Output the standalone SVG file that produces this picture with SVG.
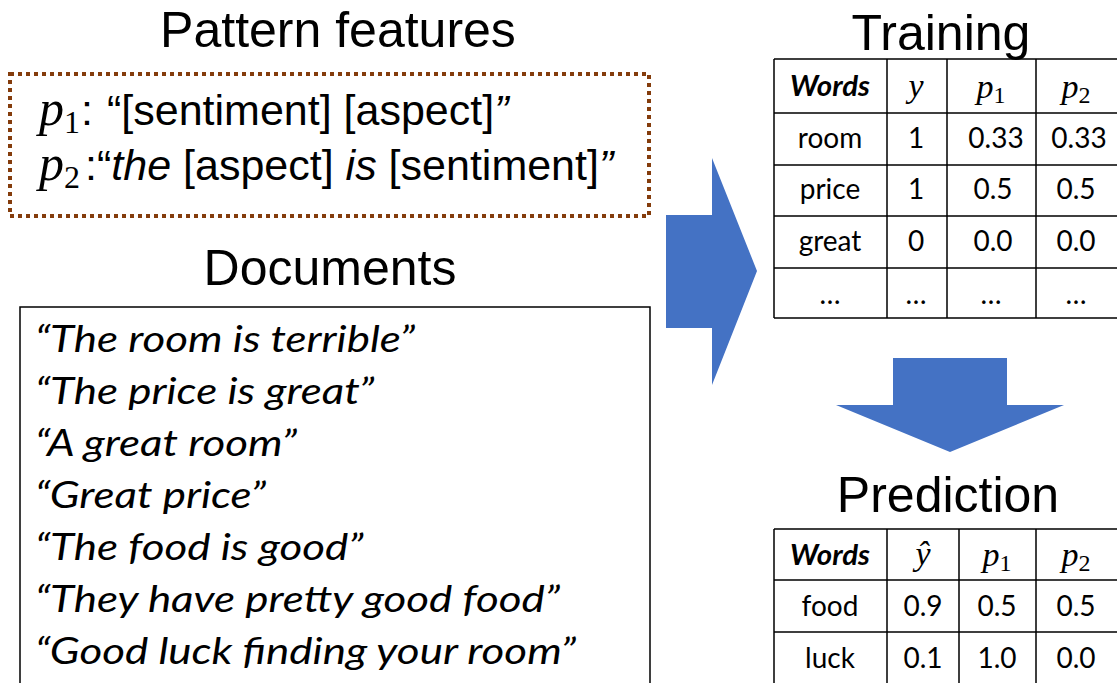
<svg xmlns="http://www.w3.org/2000/svg" width="1117" height="683" viewBox="0 0 1117 683">
  <style>
    .title { font-family: "Liberation Sans", Arial, sans-serif; font-size: 50px; fill: #000; text-anchor: middle; }
    .pat { font-family: "Liberation Sans", Arial, sans-serif; font-size: 43px; fill: #000; }
    .it { font-style: italic; }
    .math { font-family: "Liberation Serif", "Times New Roman", serif; font-style: italic; }
    .sub { font-family: "Liberation Serif", "Times New Roman", serif; font-style: normal; }
    .doc { font-family: Lato, "Open Sans", sans-serif; font-style: italic; font-size: 36px; fill: #000; }
    .cell { font-family: Lato, "Open Sans", sans-serif; font-size: 28px; fill: #000; text-anchor: middle; }
    .cell.math { font-family: "Liberation Serif", "Times New Roman", serif; font-size: 34px; }
    .head { font-weight: bold; font-style: italic; }
    .grid { fill: none; stroke: #000; stroke-width: 1.5; }
    .arrow { fill: #4472C4; }
  </style>

  <!-- section titles -->
  <text class="title" x="338" y="47">Pattern features</text>
  <text class="title" x="330" y="285">Documents</text>
  <text class="title" x="941" y="50">Training</text>
  <text class="title" x="948" y="512">Prediction</text>

  <!-- pattern features box -->
  <g id="patterns">
    <rect x="10" y="74" width="639" height="142" fill="none" stroke="#843C0C" stroke-width="4" stroke-dasharray="4 4"/>
    <text class="pat" y="125"><tspan class="math" x="39" font-size="50">p</tspan><tspan class="sub" x="64" dy="8" font-size="32">1</tspan><tspan x="81" dy="-8">:</tspan><tspan x="107">“[sentiment] [aspect]</tspan><tspan class="it">”</tspan></text>
    <text class="pat" y="180"><tspan class="math" x="39" font-size="50">p</tspan><tspan class="sub" x="64" dy="8" font-size="32">2</tspan><tspan x="85" dy="-8">:</tspan><tspan x="97">“</tspan><tspan class="it">the</tspan><tspan> [aspect] </tspan><tspan class="it">is</tspan><tspan> [sentiment]</tspan><tspan class="it">”</tspan></text>
  </g>

  <!-- documents box (open at the bottom edge) -->
  <g id="documents">
    <path d="M20 690 V307 H650 V690" fill="none" stroke="#000" stroke-width="1.5"/>
    <g transform="translate(35 0) scale(1.22 1)">
      <text class="doc" x="0" y="352">“The room is terrible”</text>
      <text class="doc" x="0" y="404">“The price is great”</text>
      <text class="doc" x="0" y="456">“A great room”</text>
      <text class="doc" x="0" y="508">“Great price”</text>
      <text class="doc" x="0" y="560">“The food is good”</text>
      <text class="doc" x="0" y="612">“They have pretty good food”</text>
      <text class="doc" x="0" y="664">“Good luck finding your room”</text>
    </g>
  </g>

  <!-- training table -->
  <g id="training">
    <path class="grid" d="M774 59 H1120 M774 113 H1120 M774 165 H1120 M774 216 H1120 M774 268 H1120 M774 318 H1120 M774 59 V318 M887 59 V318 M947 59 V318 M1036 59 V318"/>
    <text class="cell head" x="830" y="96" textLength="80" lengthAdjust="spacingAndGlyphs">Words</text>
    <text class="cell math" x="916" y="97">y</text>
    <text class="cell" x="991" y="98"><tspan class="math" font-size="34">p</tspan><tspan class="sub" font-size="24" dy="5">1</tspan></text>
    <text class="cell" x="1076" y="98"><tspan class="math" font-size="34">p</tspan><tspan class="sub" font-size="24" dy="5">2</tspan></text>
    <text class="cell" x="830" y="148">room</text>
    <text class="cell" x="916" y="148">1</text>
    <text class="cell" x="996" y="148">0.33</text>
    <text class="cell" x="1079" y="148">0.33</text>
    <text class="cell" x="830" y="199">price</text>
    <text class="cell" x="916" y="199">1</text>
    <text class="cell" x="993" y="199">0.5</text>
    <text class="cell" x="1076" y="199">0.5</text>
    <text class="cell" x="830" y="251">great</text>
    <text class="cell" x="916" y="251">0</text>
    <text class="cell" x="993" y="251">0.0</text>
    <text class="cell" x="1076" y="251">0.0</text>
    <text class="cell" x="830" y="304">…</text>
    <text class="cell" x="916" y="304">…</text>
    <text class="cell" x="991" y="304">…</text>
    <text class="cell" x="1076" y="304">…</text>
  </g>

  <!-- prediction table -->
  <g id="prediction">
    <path class="grid" d="M774 529 H1120 M774 580 H1120 M774 632 H1120 M774 529 V690 M887 529 V690 M959 529 V690 M1036 529 V690"/>
    <text class="cell head" x="830" y="565" textLength="80" lengthAdjust="spacingAndGlyphs">Words</text>
    <text class="cell math" x="923" y="565">ŷ</text>
    <text class="cell" x="997" y="566"><tspan class="math" font-size="34">p</tspan><tspan class="sub" font-size="24" dy="5">1</tspan></text>
    <text class="cell" x="1076" y="566"><tspan class="math" font-size="34">p</tspan><tspan class="sub" font-size="24" dy="5">2</tspan></text>
    <text class="cell" x="830" y="616">food</text>
    <text class="cell" x="923" y="616">0.9</text>
    <text class="cell" x="997" y="616">0.5</text>
    <text class="cell" x="1076" y="616">0.5</text>
    <text class="cell" x="830" y="668">luck</text>
    <text class="cell" x="923" y="668">0.1</text>
    <text class="cell" x="997" y="668">1.0</text>
    <text class="cell" x="1076" y="668">0.0</text>
  </g>

  <!-- block arrows -->
  <g id="connectors">
    <polygon class="arrow" points="666,215 712,215 712,158 757,271 712,385 712,328 666,328"/>
    <polygon class="arrow" points="893,358 1007,358 1007,405 1064,405 950,452 836,405 893,405"/>
  </g>
</svg>
